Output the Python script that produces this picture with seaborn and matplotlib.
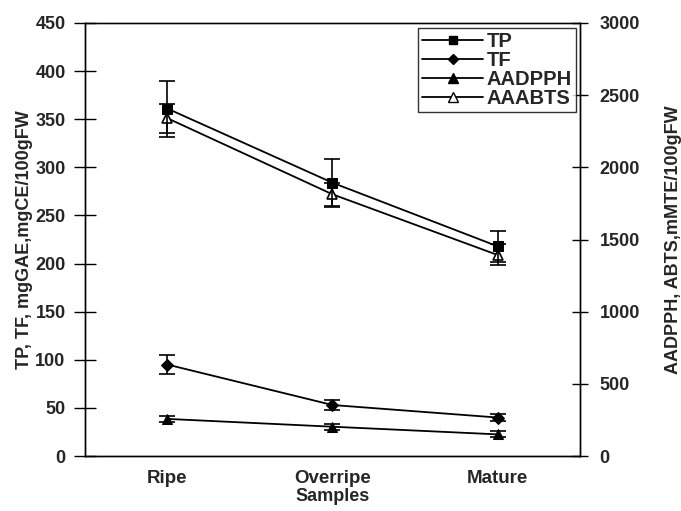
import matplotlib
matplotlib.use("Agg")
import matplotlib.pyplot as plt
import seaborn as sns
import numpy as np
import pandas as pd
from matplotlib.lines import Line2D

samples = ["Ripe", "Overripe", "Mature"]
tp = [361, 284, 218]
tp_err = [29, 25, 16]
tf = [95, 53, 40]
tf_err = [10, 5, 4]
aadpph = [257, 203, 150]
aadpph_err = [20, 20, 20]
aaabts = [2340, 1813, 1393]
aaabts_err = [100, 80, 73]

left_ticks = [0, 50, 100, 150, 200, 250, 300, 350, 400, 450]
right_ticks = [0, 500, 1000, 1500, 2000, 2500, 3000]

sns.set_style("white")
plt.rcParams['font.family'] = ['Liberation Sans', 'DejaVu Sans']
plt.rcParams['font.weight'] = 'bold'

fig = plt.figure(figsize=(6.81, 5.11), dpi=100)
ax = fig.add_axes([0.1248, 0.1076, 0.7269, 0.8474])
ax2 = ax.twinx()

x = np.arange(len(samples))
df = pd.DataFrame({"x": x, "TP": tp, "TF": tf, "AADPPH": aadpph, "AAABTS": aaabts})

lw = 1.3
sns.lineplot(data=df, x="x", y="TP", ax=ax, color="black", lw=lw, marker="s",
             markersize=6.5, markeredgecolor="black", markerfacecolor="black")
sns.lineplot(data=df, x="x", y="TF", ax=ax, color="black", lw=lw, marker="D",
             markersize=6, markeredgecolor="black", markerfacecolor="black")
sns.lineplot(data=df, x="x", y="AADPPH", ax=ax2, color="black", lw=lw, marker="^",
             markersize=7.5, markeredgecolor="black", markerfacecolor="black")
sns.lineplot(data=df, x="x", y="AAABTS", ax=ax2, color="black", lw=lw, marker="^",
             markersize=7.5, markeredgecolor="black", markerfacecolor="white", markeredgewidth=1.2)

for a, vals, errs in [(ax, tp, tp_err), (ax, tf, tf_err), (ax2, aadpph, aadpph_err), (ax2, aaabts, aaabts_err)]:
    a.errorbar(x, vals, yerr=errs, fmt="none", ecolor="black", elinewidth=1.2, capsize=6, capthick=1.2)

ax.set_xlim(-0.5, 2.5)
ax.set_ylim(0, 450)
ax2.set_ylim(0, 3000)
ax.set_yticks(left_ticks)
ax.set_yticklabels([str(t) for t in left_ticks], fontsize=13, fontweight="bold")
ax2.set_yticks(right_ticks)
ax2.set_yticklabels([str(t) for t in right_ticks], fontsize=13, fontweight="bold")

ax.set_xticks([0.5, 1.5])
ax.set_xticklabels([])
ax.set_xticks(x, minor=True)
ax.set_xticklabels(samples, minor=True, fontsize=13.5, fontweight="bold")
ax.tick_params(axis="x", which="major", direction="inout", length=12, width=1, color="black")
ax.tick_params(axis="x", which="minor", length=0, pad=10)
ax.tick_params(axis="y", direction="inout", length=16, width=1, color="black", pad=6)
ax2.tick_params(axis="y", direction="inout", length=12, width=1, color="black", pad=8)

ax.set_xlabel("Samples", fontsize=13, fontweight="bold", labelpad=0.5)
ax.set_ylabel("TP, TF, mgGAE,mgCE/100gFW", fontsize=13, fontweight="bold", labelpad=2)
ax2.set_ylabel("AADPPH, ABTS,mMTE/100gFW", fontsize=13, fontweight="bold", labelpad=18)

for a in (ax, ax2):
    for s in a.spines.values():
        s.set_color("black")
        s.set_linewidth(1.0)
ax.spines["top"].set_color("#555555")

handles = [
    Line2D([], [], color="black", lw=lw, marker="s", markersize=6, markerfacecolor="black"),
    Line2D([], [], color="black", lw=lw, marker="D", markersize=5.5, markerfacecolor="black"),
    Line2D([], [], color="black", lw=lw, marker="^", markersize=7, markerfacecolor="black"),
    Line2D([], [], color="black", lw=lw, marker="^", markersize=7, markerfacecolor="white"),
]
leg = ax2.legend(handles, ["TP", "TF", "AADPPH", "AAABTS"], loc="upper right",
                 bbox_to_anchor=(0.992, 0.988), frameon=True, fancybox=False,
                 prop={"size": 14.5, "weight": "bold"}, handlelength=3.0,
                 borderpad=0.2, labelspacing=0.0, handletextpad=0.2, borderaxespad=0)
leg.get_frame().set_edgecolor("black")
leg.get_frame().set_linewidth(1.0)

fig.savefig("out.png", dpi=100)
